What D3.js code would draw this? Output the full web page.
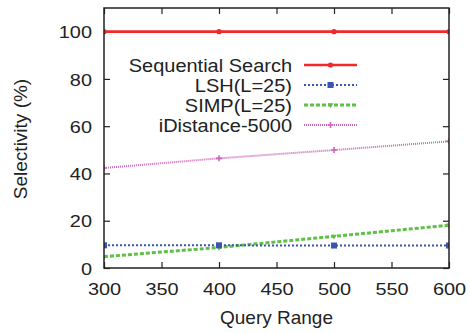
<!DOCTYPE html>
<html>
<head>
<meta charset="utf-8">
<script src="https://cdn.jsdelivr.net/npm/d3@7"></script>
<style>
  html, body { margin: 0; padding: 0; background: #fff; }
  svg text { font-family: "Liberation Sans", Arial, Helvetica, sans-serif; fill: #222; }
</style>
</head>
<body>
<svg id="chart" width="470" height="333"></svg>
<script>
// ── Data ──────────────────────────────────────────────────────────────
const queryRange = [300, 400, 500, 600];
const seqSearch  = [100, 100, 100, 100];
const lsh        = [9.6, 9.6, 9.5, 9.5];
const simp       = [4.8, 8.7, 13.4, 18.1];
const iDistance  = [42.3, 46.4, 49.9, 53.6];

const xTicks = [300, 350, 400, 450, 500, 550, 600];
const yTicks = [0, 20, 40, 60, 80, 100];

const seriesNames = ['Sequential Search', 'LSH(L=25)', 'SIMP(L=25)', 'iDistance-5000'];

// styles per series (kept apart from data)
const STYLE = [
  { color: '#ee2a2a', width: 2.6, dash: null,  marker: 'circle' },
  { color: '#3a55b0', width: 2,   dash: '2,2', marker: 'square' },
  { color: '#5ec144', width: 3,   dash: '4,2', marker: 'triangle' },
  { color: '#cc66bb', width: 2,   dash: '1,1', marker: 'plus' },
];

const M = { left: 104, right: 449, top: 8, bottom: 268 };

const svg = d3.select('#chart');

const x = d3.scaleLinear().domain([300, 600]).range([M.left, M.right]);
const y = d3.scaleLinear().domain([0, 110]).range([M.bottom, M.top]);

const values = [seqSearch, lsh, simp, iDistance];
const series = seriesNames.map((name, i) => ({
  name, style: STYLE[i],
  points: queryRange.map((q, j) => ({ q, v: values[i][j] })),
}));

// ── Axes: inward ticks, mirrored on all four sides ───────────────────
const tickLen = 6;
const stretch = 'scale(1.17,1)';

const xAxis = svg.append('g')
  .attr('transform', `translate(0,${M.bottom})`)
  .call(d3.axisBottom(x).tickValues(xTicks).tickSizeInner(-tickLen).tickSizeOuter(0).tickPadding(0));
xAxis.select('.domain').remove();
xAxis.selectAll('line').attr('stroke', '#222').attr('stroke-width', 1.2);
xAxis.selectAll('text')
  .attr('font-size', 17).attr('y', 27).attr('dy', null)
  .attr('text-anchor', 'middle')
  .attr('transform', stretch);
// pull text back so the stretched label stays centred on its tick
xAxis.selectAll('.tick').each(function () {
  const t = d3.select(this);
  const tx = +t.attr('transform').match(/translate\(([-\d.]+)/)[1];
  t.attr('transform', `translate(${tx},0)`);
});

const xTop = svg.append('g')
  .attr('transform', `translate(0,${M.top})`)
  .call(d3.axisTop(x).tickValues(xTicks).tickSizeInner(-tickLen).tickSizeOuter(0).tickFormat(''));
xTop.select('.domain').remove();
xTop.selectAll('line').attr('stroke', '#222').attr('stroke-width', 1.2);

const yAxis = svg.append('g')
  .attr('transform', `translate(${M.left},0)`)
  .call(d3.axisLeft(y).tickValues(yTicks).tickSizeInner(-tickLen).tickSizeOuter(0).tickPadding(0));
yAxis.select('.domain').remove();
yAxis.selectAll('line').attr('stroke', '#222').attr('stroke-width', 1.2);
yAxis.selectAll('text')
  .attr('font-size', 17).attr('x', -10.3).attr('dy', '0.36em')
  .attr('text-anchor', 'end')
  .attr('transform', stretch);

const yRight = svg.append('g')
  .attr('transform', `translate(${M.right},0)`)
  .call(d3.axisRight(y).tickValues(yTicks).tickSizeInner(-tickLen).tickSizeOuter(0).tickFormat(''));
yRight.select('.domain').remove();
yRight.selectAll('line').attr('stroke', '#222').attr('stroke-width', 1.2);

// ── Series lines ──────────────────────────────────────────────────────
svg.append('defs').append('clipPath').attr('id', 'plotClip')
  .append('rect')
  .attr('x', M.left).attr('y', M.top)
  .attr('width', M.right - M.left).attr('height', M.bottom - M.top);

const line = d3.line().x(d => x(d.q)).y(d => y(d.v));
const plot = svg.append('g').attr('clip-path', 'url(#plotClip)');

function drawMarker(g, style, cx, cy) {
  if (style.marker === 'circle') {
    g.append('circle').attr('cx', cx).attr('cy', cy).attr('r', 2.6).attr('fill', style.color);
  } else if (style.marker === 'square') {
    g.append('rect').attr('x', cx - 3).attr('y', cy - 3).attr('width', 6).attr('height', 6).attr('fill', style.color);
  } else if (style.marker === 'triangle') {
    g.append('path').attr('d', d3.symbol(d3.symbolTriangle, 14)())
      .attr('transform', `translate(${cx},${cy}) rotate(180)`).attr('fill', style.color);
  } else {
    g.append('path').attr('d', `M${cx - 3},${cy}H${cx + 3}M${cx},${cy - 3}V${cy + 3}`)
      .attr('stroke', style.color).attr('stroke-width', 1.6);
  }
}

// draw back-to-front so red ends on top like the reference
[3, 2, 1, 0].forEach(i => {
  const s = series[i];
  plot.append('path')
    .datum(s.points)
    .attr('d', line)
    .attr('fill', 'none')
    .attr('stroke', s.style.color)
    .attr('stroke-width', s.style.width)
    .attr('stroke-dasharray', s.style.dash);
  s.points.forEach(p => drawMarker(plot, s.style, x(p.q), y(p.v)));
});

// ── Frame ─────────────────────────────────────────────────────────────
svg.append('rect')
  .attr('x', M.left).attr('y', M.top)
  .attr('width', M.right - M.left).attr('height', M.bottom - M.top)
  .attr('fill', 'none').attr('stroke', '#222').attr('stroke-width', 1.5);

// ── Legend ────────────────────────────────────────────────────────────
const legendRows = [65, 85, 105, 125];
const legend = svg.append('g');
series.forEach((s, i) => {
  const ly = legendRows[i];
  legend.append('text')
    .attr('transform', `translate(292,${ly}) scale(1.08,1)`)
    .attr('text-anchor', 'end').attr('dy', '0.36em')
    .attr('font-size', 18.5)
    .text(s.name);
  legend.append('line')
    .attr('x1', 304).attr('x2', 357).attr('y1', ly).attr('y2', ly)
    .attr('stroke', s.style.color).attr('stroke-width', s.style.width)
    .attr('stroke-dasharray', s.style.dash);
  drawMarker(legend, s.style, 330.5, ly);
});

// ── Axis titles ───────────────────────────────────────────────────────
svg.append('text')
  .attr('x', (M.left + M.right) / 2).attr('y', 324)
  .attr('text-anchor', 'middle').attr('font-size', 19)
  .text('Query Range');

svg.append('text')
  .attr('transform', 'translate(27,139) rotate(-90)')
  .attr('text-anchor', 'middle').attr('font-size', 19)
  .text('Selectivity (%)');
</script>
</body>
</html>
